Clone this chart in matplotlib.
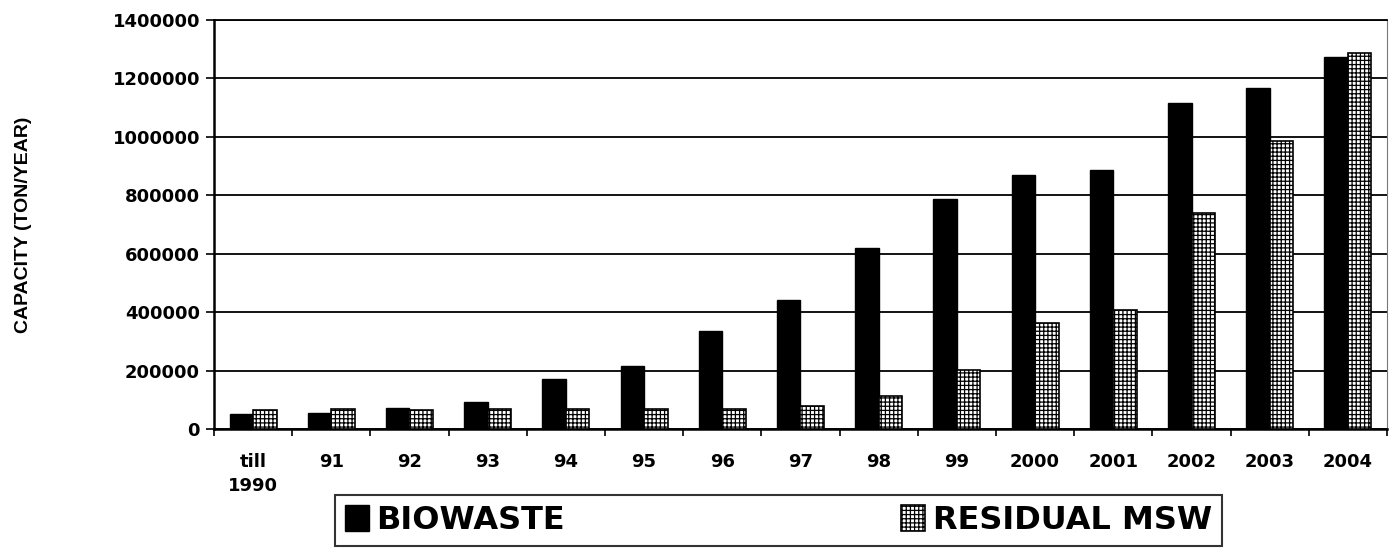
import numpy as np
import matplotlib.pyplot as plt
from matplotlib.ticker import FixedLocator

plt.rcParams['font.family'] = ['DejaVu Sans']
plt.rcParams['font.weight'] = 'bold'
plt.rcParams['hatch.linewidth'] = 0.9

# data (ton/year)
years = ['till\n1990', '91', '92', '93', '94', '95', '96', '97', '98', '99',
         '2000', '2001', '2002', '2003', '2004']
biowaste = [51000, 56000, 71000, 94000, 172000, 215000, 335000, 440000, 620000,
            786000, 869000, 887000, 1117000, 1166000, 1274000]
residual = [64000, 67000, 65000, 70000, 69000, 70000, 70000, 80000, 112000,
            202000, 364000, 407000, 738000, 987000, 1288000]
yticks = [0, 200000, 400000, 600000, 800000, 1000000, 1200000, 1400000]

fig = plt.figure(figsize=(13.93, 5.49), dpi=100)
ax = fig.add_axes([0.1536, 0.2186, 0.8421, 0.745])

x = np.arange(len(years))
w = 0.3
ax.bar(x - w / 2, biowaste, w, color='black', edgecolor='black', label='BIOWASTE', zorder=3)
ax.bar(x + w / 2, residual, w, color='white', edgecolor='black', hatch='++++',
       linewidth=1.2, label='RESIDUAL MSW', zorder=3)

ax.set_xlim(-0.5, len(years) - 0.5)
ax.set_ylim(0, 1400000)
ax.set_yticks(yticks)
ax.set_yticklabels([str(v) for v in yticks])
ax.yaxis.grid(True, color='black', linewidth=1.3, zorder=0)
ax.set_axisbelow(True)

ax.set_xticks(x)
ax.set_xticklabels(years, linespacing=1.45)
ax.xaxis.set_minor_locator(FixedLocator(np.arange(-0.5, len(years), 1.0)))
ax.tick_params(axis='x', which='major', length=0, pad=17, labelsize=13)
ax.tick_params(axis='x', which='minor', length=5, width=1.2, direction='out')
ax.tick_params(axis='y', length=6, width=1.2, labelsize=13, pad=4)
for lab in ax.get_xticklabels() + ax.get_yticklabels():
    lab.set_fontweight('bold')

for s in ['left', 'bottom']:
    ax.spines[s].set_linewidth(1.8)
ax.spines['right'].set_color('#777777')
ax.spines['top'].set_linewidth(1.3)

fig.text(0.017, 0.59, 'CAPACITY (TON/YEAR)', rotation=90, ha='center', va='center',
         fontsize=14, fontweight='bold', family='Liberation Sans')

leg = fig.legend(loc='lower left', bbox_to_anchor=(0.2405, 0.006, 0.6368, 0.107),
                 mode='expand', ncol=2, fancybox=False, edgecolor='black',
                 prop={'size': 23, 'weight': 'bold'}, handlelength=0.75,
                 handleheight=0.9, handletextpad=0.25, borderpad=0.3,
                 borderaxespad=0, columnspacing=4)
leg.get_frame().set_linewidth(1.5)

fig.savefig('out.png', dpi=100)
